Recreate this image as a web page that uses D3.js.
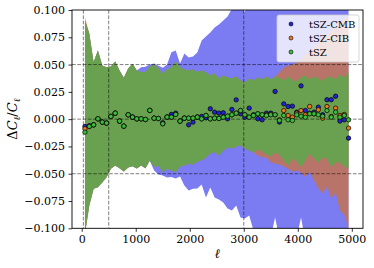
<!DOCTYPE html>
<html>
<head>
<meta charset="utf-8">
<style>
  body { margin: 0; background: #fff; }
  text { font-family: "DejaVu Serif", serif; fill: #000; }
</style>
</head>
<body>
<svg width="374" height="268"></svg>
<script src="https://d3js.org/d3.v7.min.js"></script>
<script>
// multipole bin centres
var ell = [60, 140, 220, 300, 380, 460, 540, 620, 700, 780,
  860, 940, 1020, 1100, 1180, 1260, 1340, 1420, 1500, 1580,
  1660, 1740, 1820, 1900, 1980, 2060, 2140, 2220, 2300, 2380,
  2460, 2540, 2620, 2700, 2780, 2860, 2940, 3020, 3100, 3180,
  3260, 3340, 3420, 3500, 3580, 3660, 3740, 3820, 3900, 3980,
  4060, 4140, 4220, 4300, 4380, 4460, 4540, 4620, 4700, 4780,
  4860, 4940];

var series = ['tSZ-CMB', 'tSZ-CIB', 'tSZ'];

// points: Delta C_l / C_l
var ptsCMB = [-0.0067, -0.0060, -0.0052, 0.0003, -0.0027, -0.0036, 0.0025, 0.0055, -0.0018, -0.0064,
  0.0040, 0.0019, 0.0003, 0.0003, -0.0003, 0.0080, 0.0009, 0.0006, -0.0033, 0.0019,
  0.0043, 0.0055, -0.0018, 0.0009, -0.0052, -0.0027, 0.0019, 0.0025, 0.0012, 0.0095,
  0.0064, 0.0055, 0.0058, 0.0003, 0.0089, 0.0177, 0.0049, 0.0018, 0.0101, 0.0040,
  0.0003, -0.0006, 0.0055, 0.0055, 0.0254, -0.0027, 0.0140, 0.0116, 0.0119, 0.0064,
  0.0305, 0.0079, 0.0055, 0.0064, 0.0110, 0.0040, 0.0178, 0.0178, 0.0210, -0.0018,
  -0.0006, -0.0174];
var ptsCIB = [-0.0088, -0.0067, -0.0052, 0.0003, -0.0027, -0.0036, 0.0025, 0.0055, -0.0018, -0.0064,
  0.0040, 0.0019, 0.0003, 0.0003, -0.0003, 0.0080, 0.0009, 0.0006, -0.0042, 0.0019,
  0.0019, 0.0043, -0.0018, 0.0009, 0.0009, 0.0009, 0.0019, 0.0003, 0.0034, 0.0003,
  0.0009, 0.0006, 0.0018, 0.0027, 0.0040, 0.0055, 0.0079, 0.0040, 0.0018, 0.0034,
  0.0049, 0.0040, 0.0040, 0.0045, 0.0040, -0.0006, 0.0079, 0.0034, 0.0018, 0.0055,
  0.0079, 0.0040, 0.0116, 0.0049, 0.0086, 0.0009, 0.0116, 0.0025, 0.0101, 0.0034,
  0.0043, -0.0082];
var ptsTSZ = [-0.0119, -0.0067, -0.0052, 0.0003, -0.0027, -0.0036, 0.0025, 0.0055, -0.0018, -0.0064,
  0.0040, 0.0019, 0.0003, 0.0003, -0.0003, 0.0080, 0.0009, 0.0006, -0.0042, 0.0019,
  0.0019, 0.0043, -0.0018, 0.0009, 0.0009, 0.0009, 0.0019, 0.0003, 0.0034, 0.0003,
  0.0009, 0.0006, 0.0018, 0.0027, 0.0040, 0.0055, 0.0079, 0.0040, 0.0018, 0.0034,
  0.0049, 0.0040, 0.0034, 0.0040, 0.0040, -0.0012, 0.0034, -0.0006, -0.0012, 0.0040,
  0.0027, 0.0018, 0.0049, 0.0049, 0.0040, 0.0027, 0.0079, 0.0018, 0.0064, 0.0018,
  0.0034, -0.0006];

// error bands (upper / lower)
var bandCMBHi = [0.0904, 0.0785, 0.0522, 0.0629, 0.0492, 0.0476, 0.0483, 0.0529, 0.0446, 0.0379,
  0.0464, 0.0508, 0.0446, 0.0475, 0.0480, 0.0500, 0.0510, 0.0490, 0.0470, 0.0500,
  0.0614, 0.0629, 0.0510, 0.0602, 0.0565, 0.0574, 0.0611, 0.0721, 0.0758, 0.0794,
  0.0840, 0.0868, 0.0904, 0.0941, 0.1010, 0.1100, 0.1050, 0.0978, 0.1150, 0.1200,
  0.1250, 0.1300, 0.1280, 0.1350, 0.1400, 0.1380, 0.1450, 0.1500, 0.1480, 0.1550,
  0.1600, 0.1580, 0.1650, 0.1700, 0.1680, 0.1750, 0.1800, 0.1780, 0.1850, 0.1900,
  0.1880, 0.1950];
var bandCMBLo = [-0.1050, -0.0790, -0.0638, -0.0623, -0.0580, -0.0532, -0.0454, -0.0424, -0.0449, -0.0479,
  -0.0443, -0.0431, -0.0452, -0.0424, -0.0452, -0.0380, -0.0470, -0.0507, -0.0516, -0.0534,
  -0.0531, -0.0543, -0.0525, -0.0607, -0.0653, -0.0638, -0.0635, -0.0598, -0.0717, -0.0626,
  -0.0717, -0.0736, -0.0763, -0.0818, -0.0836, -0.0790, -0.0900, -0.0910, -0.0882, -0.1020,
  -0.1100, -0.1150, -0.1120, -0.1080, -0.0900, -0.1100, -0.1180, -0.1200, -0.1150, -0.1080,
  -0.0900, -0.1120, -0.1200, -0.1250, -0.1300, -0.1280, -0.1350, -0.1400, -0.1380, -0.1450,
  -0.1500, -0.1550];
var bandCIBHi = [0.0935, 0.0785, 0.0522, 0.0629, 0.0492, 0.0476, 0.0483, 0.0529, 0.0446, 0.0379,
  0.0464, 0.0508, 0.0446, 0.0431, 0.0431, 0.0483, 0.0501, 0.0464, 0.0419, 0.0455,
  0.0476, 0.0529, 0.0476, 0.0455, 0.0446, 0.0455, 0.0431, 0.0446, 0.0428, 0.0400,
  0.0419, 0.0373, 0.0400, 0.0382, 0.0373, 0.0391, 0.0355, 0.0336, 0.0373, 0.0355,
  0.0382, 0.0364, 0.0391, 0.0364, 0.0391, 0.0430, 0.0470, 0.0490, 0.0500, 0.0520,
  0.0544, 0.0583, 0.0620, 0.0657, 0.0694, 0.0730, 0.0769, 0.0805, 0.0843, 0.0880,
  0.0916, 0.0954];
var bandCIBLo = [-0.1060, -0.0790, -0.0638, -0.0623, -0.0580, -0.0532, -0.0454, -0.0424, -0.0449, -0.0479,
  -0.0443, -0.0431, -0.0452, -0.0424, -0.0449, -0.0378, -0.0440, -0.0424, -0.0486, -0.0454,
  -0.0470, -0.0486, -0.0433, -0.0424, -0.0409, -0.0415, -0.0388, -0.0378, -0.0351, -0.0314,
  -0.0302, -0.0333, -0.0287, -0.0259, -0.0268, -0.0250, -0.0241, -0.0268, -0.0287, -0.0305,
  -0.0333, -0.0351, -0.0351, -0.0397, -0.0406, -0.0415, -0.0433, -0.0455, -0.0483, -0.0470,
  -0.0488, -0.0531, -0.0479, -0.0562, -0.0635, -0.0680, -0.0617, -0.0727, -0.0672, -0.0836,
  -0.0873, -0.1000];
var bandTSZHi = [0.0904, 0.0785, 0.0522, 0.0629, 0.0492, 0.0476, 0.0483, 0.0529, 0.0446, 0.0379,
  0.0464, 0.0508, 0.0446, 0.0431, 0.0431, 0.0483, 0.0501, 0.0464, 0.0419, 0.0455,
  0.0476, 0.0529, 0.0476, 0.0455, 0.0446, 0.0455, 0.0431, 0.0446, 0.0428, 0.0400,
  0.0419, 0.0373, 0.0400, 0.0382, 0.0373, 0.0391, 0.0355, 0.0336, 0.0373, 0.0355,
  0.0382, 0.0364, 0.0391, 0.0364, 0.0391, 0.0382, 0.0355, 0.0391, 0.0364, 0.0345,
  0.0382, 0.0400, 0.0364, 0.0391, 0.0373, 0.0355, 0.0382, 0.0391, 0.0364, 0.0410,
  0.0382, 0.0428];
var bandTSZLo = [-0.1050, -0.0790, -0.0638, -0.0623, -0.0580, -0.0532, -0.0454, -0.0424, -0.0449, -0.0479,
  -0.0443, -0.0431, -0.0452, -0.0424, -0.0449, -0.0378, -0.0440, -0.0424, -0.0486, -0.0454,
  -0.0470, -0.0486, -0.0433, -0.0424, -0.0409, -0.0415, -0.0388, -0.0378, -0.0351, -0.0314,
  -0.0302, -0.0333, -0.0287, -0.0259, -0.0268, -0.0250, -0.0241, -0.0268, -0.0287, -0.0305,
  -0.0278, -0.0296, -0.0323, -0.0342, -0.0305, -0.0323, -0.0378, -0.0424, -0.0360, -0.0388,
  -0.0440, -0.0378, -0.0317, -0.0360, -0.0397, -0.0351, -0.0363, -0.0440, -0.0397, -0.0394,
  -0.0433, -0.0454];

var vLines = [30, 500, 3000];
var hLines = [0.05, 0, -0.05];
var xTicks = [0, 1000, 2000, 3000, 4000, 5000];
var yTicks = [-0.1, -0.075, -0.05, -0.025, 0, 0.025, 0.05, 0.075, 0.1];

var plotL = 72, plotT = 10, plotR = 363, plotB = 228.3;

var svg = d3.select('svg');
svg.append('rect').attr('width', 374).attr('height', 268).attr('fill', '#fff');

var x = d3.scaleLinear().domain([-180, 5207]).range([plotL, plotR]);
var y = d3.scaleLinear().domain([-0.1, 0.1]).range([plotB, plotT]);

svg.append('clipPath').attr('id', 'plotclip')
  .append('rect')
    .attr('x', plotL).attr('y', plotT)
    .attr('width', plotR - plotL).attr('height', plotB - plotT);

var plot = svg.append('g').attr('clip-path', 'url(#plotclip)');

function band(hi, lo, color, opacity) {
  var area = d3.area()
    .x(function(d, i) { return x(ell[i]); })
    .y0(function(d, i) { return y(lo[i]); })
    .y1(function(d, i) { return y(hi[i]); });
  plot.append('path')
    .attr('d', area(ell))
    .attr('fill', color)
    .attr('fill-opacity', opacity);
}

band(bandCMBHi, bandCMBLo, '#7b7bf2', 1);
band(bandCIBHi, bandCIBLo, '#e16f0c', 0.6);
band(bandTSZHi, bandTSZLo, '#6aa150', 1);

// dashed guide lines
plot.selectAll('.vline').data(vLines).enter()
  .append('line')
    .attr('x1', function(d) { return x(d); })
    .attr('x2', function(d) { return x(d); })
    .attr('y1', plotT).attr('y2', plotB)
    .attr('stroke', '#000').attr('stroke-opacity', 0.5)
    .attr('stroke-width', 1).attr('stroke-dasharray', '3.7,1.6');
plot.selectAll('.hline').data(hLines).enter()
  .append('line')
    .attr('y1', function(d) { return y(d); })
    .attr('y2', function(d) { return y(d); })
    .attr('x1', plotL).attr('x2', plotR)
    .attr('stroke', '#000').attr('stroke-opacity', 0.5)
    .attr('stroke-width', 1).attr('stroke-dasharray', '3.7,1.6');

var colors = ['#2323d6', '#ec7a1c', '#3dbd3d'];
var allPts = [ptsCMB, ptsCIB, ptsTSZ];

allPts.forEach(function(vals, k) {
  plot.append('g').selectAll('circle').data(vals).enter()
    .append('circle')
      .attr('cx', function(d, i) { return x(ell[i]); })
      .attr('cy', function(d) { return y(d); })
      .attr('r', 2.2)
      .attr('fill', colors[k])
      .attr('stroke', '#000')
      .attr('stroke-width', 0.7);
});

// axes
var xAxis = svg.append('g')
  .attr('transform', 'translate(0,' + plotB + ')')
  .call(d3.axisBottom(x).tickValues(xTicks).tickSize(3.5).tickPadding(3.5).tickFormat(d3.format('d')));
var yAxis = svg.append('g')
  .attr('transform', 'translate(' + plotL + ',0)')
  .call(d3.axisLeft(y).tickValues(yTicks).tickSize(3.5).tickPadding(3.5)
    .tickFormat(function(d) { return d3.format('.3f')(d).replace('-', '\u2212'); }));
[xAxis, yAxis].forEach(function(ax) {
  ax.select('.domain').remove();
  ax.selectAll('text').style('font-family', '"DejaVu Serif", serif').style('font-size', '11px').attr('fill', '#000');
  ax.selectAll('line').attr('stroke', '#000').attr('stroke-width', 0.8);
});

svg.append('rect')
  .attr('x', plotL).attr('y', plotT)
  .attr('width', plotR - plotL).attr('height', plotB - plotT)
  .attr('fill', 'none').attr('stroke', '#000').attr('stroke-width', 0.9);

// axis labels
svg.append('text')
  .attr('x', (plotL + plotR) / 2).attr('y', 258)
  .attr('text-anchor', 'middle')
  .style('font-size', '13px').style('font-style', 'italic')
  .text('\u2113');

var yl = svg.append('text')
  .attr('transform', 'translate(17,' + ((plotT + plotB) / 2) + ') rotate(-90)')
  .attr('text-anchor', 'middle')
  .style('font-size', '13px');
yl.append('tspan').text('\u0394');
yl.append('tspan').style('font-style', 'italic').text('C');
yl.append('tspan').style('font-style', 'italic').style('font-size', '9px').attr('dy', 3).text('\u2113');
yl.append('tspan').attr('dy', -3).text('/');
yl.append('tspan').style('font-style', 'italic').text('C');
yl.append('tspan').style('font-style', 'italic').style('font-size', '9px').attr('dy', 3).text('\u2113');

// legend
var lg = svg.append('g');
lg.append('rect')
  .attr('x', 277).attr('y', 15).attr('width', 82).attr('height', 47).attr('rx', 2)
  .attr('fill', '#fff').attr('fill-opacity', 0.8)
  .attr('stroke', '#ccc').attr('stroke-width', 0.8);
series.forEach(function(name, k) {
  var yy = 24 + k * 14;
  lg.append('circle').attr('cx', 291).attr('cy', yy).attr('r', 2)
    .attr('fill', colors[k]).attr('stroke', '#000').attr('stroke-width', 0.6);
  lg.append('text').attr('x', 309).attr('y', yy).attr('dy', '0.35em')
    .style('font-size', '10px').text(name);
});
</script>
</body>
</html>
